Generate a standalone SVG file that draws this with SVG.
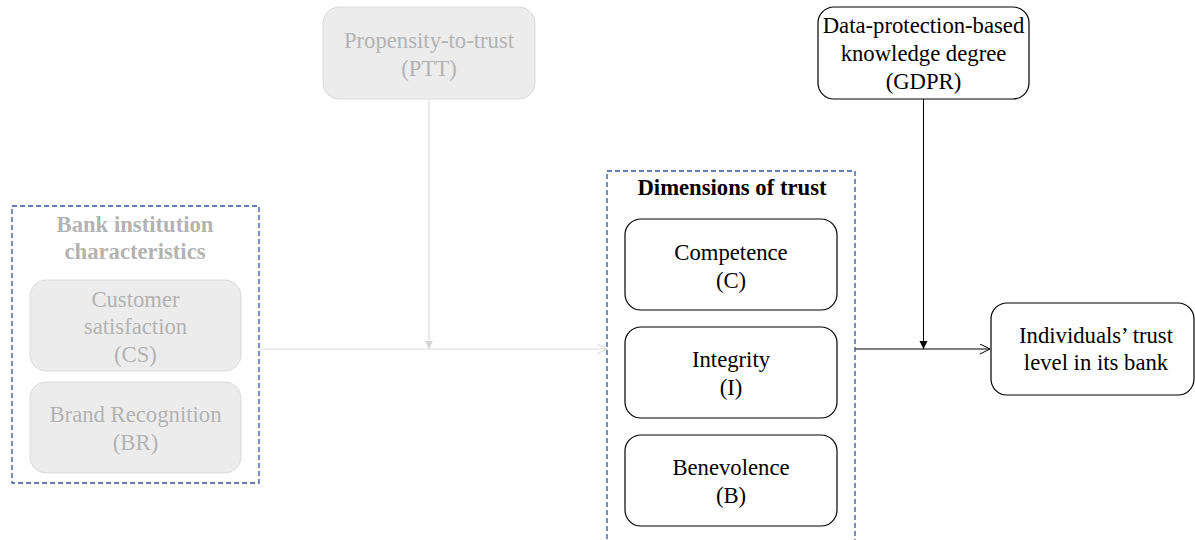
<svg xmlns="http://www.w3.org/2000/svg" width="1195" height="540" viewBox="0 0 1195 540">
<defs>
<style>
text{font-family:'Liberation Serif','Times New Roman',Times,serif;font-size:22.7px;font-weight:400;text-anchor:middle}
.g text{fill:#b3b3b3}
.k text{fill:#000}
.gbox{fill:#ececec;stroke:#dadada;stroke-width:1}
.kbox{fill:#fff;stroke:#000;stroke-width:1.2}
.dash{fill:none;stroke:#2f55a4;stroke-width:1.3;stroke-dasharray:5,3}
text.title{font-weight:700}
</style>
<marker id="fg" markerWidth="10" markerHeight="10" refX="8" refY="4" orient="auto" markerUnits="userSpaceOnUse"><path d="M0,0 L8,4 L0,8 z" fill="#d6d6d6"/></marker>
<marker id="fk" markerWidth="10" markerHeight="10" refX="8" refY="4" orient="auto" markerUnits="userSpaceOnUse"><path d="M0,0 L8,4 L0,8 z" fill="#000"/></marker>
<marker id="og" markerWidth="12" markerHeight="12" refX="10" refY="5" orient="auto" markerUnits="userSpaceOnUse"><path d="M0,0 L10,5 L0,10" fill="none" stroke="#d6d6d6" stroke-width="1"/></marker>
<marker id="ok" markerWidth="12" markerHeight="12" refX="10" refY="5" orient="auto" markerUnits="userSpaceOnUse"><path d="M0,0 L10,5 L0,10" fill="none" stroke="#000" stroke-width="1"/></marker>
</defs>
<rect width="1195" height="540" fill="#fff"/>
<g id="connectors">
<line x1="259" y1="349" x2="607" y2="349" stroke="#dcdcdc" stroke-width="1.2" marker-end="url(#og)"/>
<line x1="429" y1="99" x2="429" y2="349" stroke="#dcdcdc" stroke-width="1.2" marker-end="url(#fg)"/>
<line x1="855" y1="349" x2="990" y2="349" stroke="#000" stroke-width="1" marker-end="url(#ok)"/>
<line x1="923.5" y1="99" x2="923.5" y2="349" stroke="#000" stroke-width="1" marker-end="url(#fk)"/>
</g>
<g id="bank-group" class="g">
<rect class="dash" x="12" y="206" width="247" height="277"/>
<text class="title" x="135" y="232">Bank institution</text>
<text class="title" x="135" y="259">characteristics</text>
</g>
<g id="node-cs" class="g">
<rect class="gbox" x="30" y="280" width="211" height="91" rx="16"/>
<text x="135.5" y="307">Customer</text>
<text x="135.5" y="334">satisfaction</text>
<text x="135.5" y="362">(CS)</text>
</g>
<g id="node-br" class="g">
<rect class="gbox" x="30" y="382" width="211" height="91" rx="16"/>
<text x="135.5" y="422">Brand Recognition</text>
<text x="135.5" y="450">(BR)</text>
</g>
<g id="node-ptt" class="g">
<rect class="gbox" x="323" y="7" width="212" height="92" rx="16"/>
<text x="429" y="48">Propensity-to-trust</text>
<text x="429" y="76">(PTT)</text>
</g>
<g id="dimensions-group" class="k">
<rect class="dash" x="607" y="171" width="248" height="380"/>
<text class="title" x="732" y="195">Dimensions of trust</text>
</g>
<g id="node-c" class="k">
<rect class="kbox" x="625" y="219" width="212" height="91" rx="16"/>
<text x="731" y="260">Competence</text>
<text x="731" y="288">(C)</text>
</g>
<g id="node-i" class="k">
<rect class="kbox" x="625" y="327" width="212" height="91" rx="16"/>
<text x="731" y="367">Integrity</text>
<text x="731" y="395">(I)</text>
</g>
<g id="node-b" class="k">
<rect class="kbox" x="625" y="435" width="212" height="91" rx="16"/>
<text x="731" y="475">Benevolence</text>
<text x="731" y="503">(B)</text>
</g>
<g id="node-gdpr" class="k">
<rect class="kbox" x="818" y="7" width="211" height="92" rx="16"/>
<text x="923.5" y="33">Data-protection-based</text>
<text x="923.5" y="61">knowledge degree</text>
<text x="923.5" y="89">(GDPR)</text>
</g>
<g id="node-trust" class="k">
<rect class="kbox" x="991" y="303" width="203" height="92" rx="16"/>
<text x="1096" y="343">Individuals’ trust</text>
<text x="1096" y="370">level in its bank</text>
</g>
</svg>
